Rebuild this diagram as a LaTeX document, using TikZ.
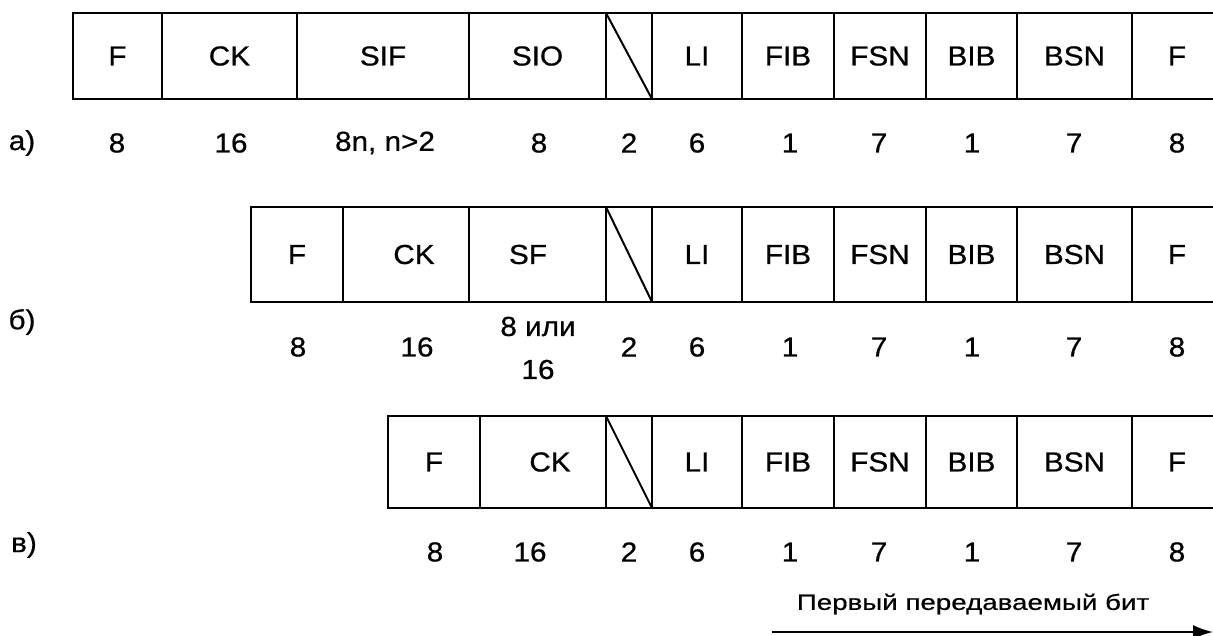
\documentclass[tikz,border=0pt]{standalone}
\usepackage{fontspec}
\setmainfont{Liberation Sans}[FakeStretch=1.08,FakeBold=0.6]
\newfontfamily\arrowfont{Liberation Sans}[FakeStretch=1.26,FakeBold=0.5]
\usetikzlibrary{arrows.meta}
\newcommand\mainfs{\fontsize{27.5}{32}\selectfont}
\newcommand\fieldbox[6]{%
  \node[fld, minimum width={(#3-#2)*1pt}, minimum height={(#5-#4)*1pt}] (#1) at ({(#2+#3)/2},{(#4+#5)/2}) {#6};}
\newcommand\rightpart[3]{%
  \fieldbox{#1Sp}{606}{652}{#2}{#3}{}
  \fieldbox{#1LI}{652}{742}{#2}{#3}{LI}
  \fieldbox{#1FIB}{742}{834}{#2}{#3}{FIB}
  \fieldbox{#1FSN}{834}{926}{#2}{#3}{FSN}
  \fieldbox{#1BIB}{926}{1017}{#2}{#3}{BIB}
  \fieldbox{#1BSN}{1017}{1132}{#2}{#3}{BSN}
  \node[fldopen, minimum width=90pt, minimum height={(#3-#2)*1pt}] (#1Fe) at (1177,{(#2+#3)/2}) {F};
  \coordinate (#1TR) at (1213,#2);
  \coordinate (#1BR) at (1213,#3);
  \draw[frame] (#1BSN.north east) -- (#1TR);
  \draw[frame] (#1BSN.south east) -- (#1BR);
  \draw[frame] (#1Sp.north west) -- (#1Sp.south east);}
\newcommand\rightnums[2]{%
  \node[num] (#1nSp) at (629,#2) {2};
  \node[num] (#1nLI) at (697,#2) {6};
  \node[num] (#1nFIB) at (790,#2) {1};
  \node[num] (#1nFSN) at (879,#2) {7};
  \node[num] (#1nBIB) at (972,#2) {1};
  \node[num] (#1nBSN) at (1074,#2) {7};
  \node[num] (#1nFe) at (1177,#2) {8};}
\begin{document}
\begin{tikzpicture}[x=1pt,y=-1pt,
  frame/.style={line width=2pt, black},
  fld/.style={draw=black, line width=2pt, inner sep=0pt, outer sep=0pt, font=\mainfs},
  fldopen/.style={inner sep=0pt, outer sep=0pt, font=\mainfs},
  num/.style={inner sep=0pt, font=\mainfs},
  arrowtext/.style={inner sep=0pt, font=\arrowfont\fontsize{22}{26}\selectfont}]
\fill[white] (0,0) rectangle (1213,636);
\useasboundingbox (0,0) rectangle (1213,636);

% row a
\fieldbox{aF}{73}{162}{13}{99}{F}
\fieldbox{aCK}{162}{297}{13}{99}{CK}
\fieldbox{aSIF}{297}{469}{13}{99}{SIF}
\fieldbox{aSIO}{469}{606}{13}{99}{SIO}
\rightpart{a}{13}{99}
\node[num] (aLab) at (22,143) {а)};
\node[num] (anF) at (117,143) {8};
\node[num] (anCK) at (231,143) {16};
\node[num] (anSIF) at (385,143) {8n, n>2};
\node[num] (anSIO) at (539,143) {8};
\rightnums{a}{143}

% row b
\fieldbox{bF}{251}{343}{207}{302}{F}
\fieldbox{bCK}{343}{469}{207}{302}{\hspace*{16pt}CK}
\fieldbox{bSF}{469}{606}{207}{302}{SF\hspace*{19pt}}
\rightpart{b}{207}{302}
\node[num] (bLab) at (22,322) {б)};
\node[num] (bnF) at (298,347) {8};
\node[num] (bnCK) at (417,347) {16};
\node[num, align=center, font=\fontsize{27.5}{43}\selectfont] (bnSF) at (538,348) {8 или\\16};
\rightnums{b}{347}

% row c
\fieldbox{cF}{388}{480}{416}{508}{F}
\fieldbox{cCK}{480}{606}{416}{508}{\hspace*{14pt}CK}
\rightpart{c}{416}{508}
\node[num] (cLab) at (24,545) {в)};
\node[num] (cnF) at (435,552) {8};
\node[num] (cnCK) at (530,552) {16};
\rightnums{c}{552}

% arrow
\coordinate (arStart) at (772,632);
\coordinate (arEnd) at (1213,632);
\draw[frame, -{Latex[length=20pt,width=14pt]}] (arStart) -- (arEnd);
\node[arrowtext] (arText) at (973,604) {Первый передаваемый бит};
\end{tikzpicture}
\end{document}
